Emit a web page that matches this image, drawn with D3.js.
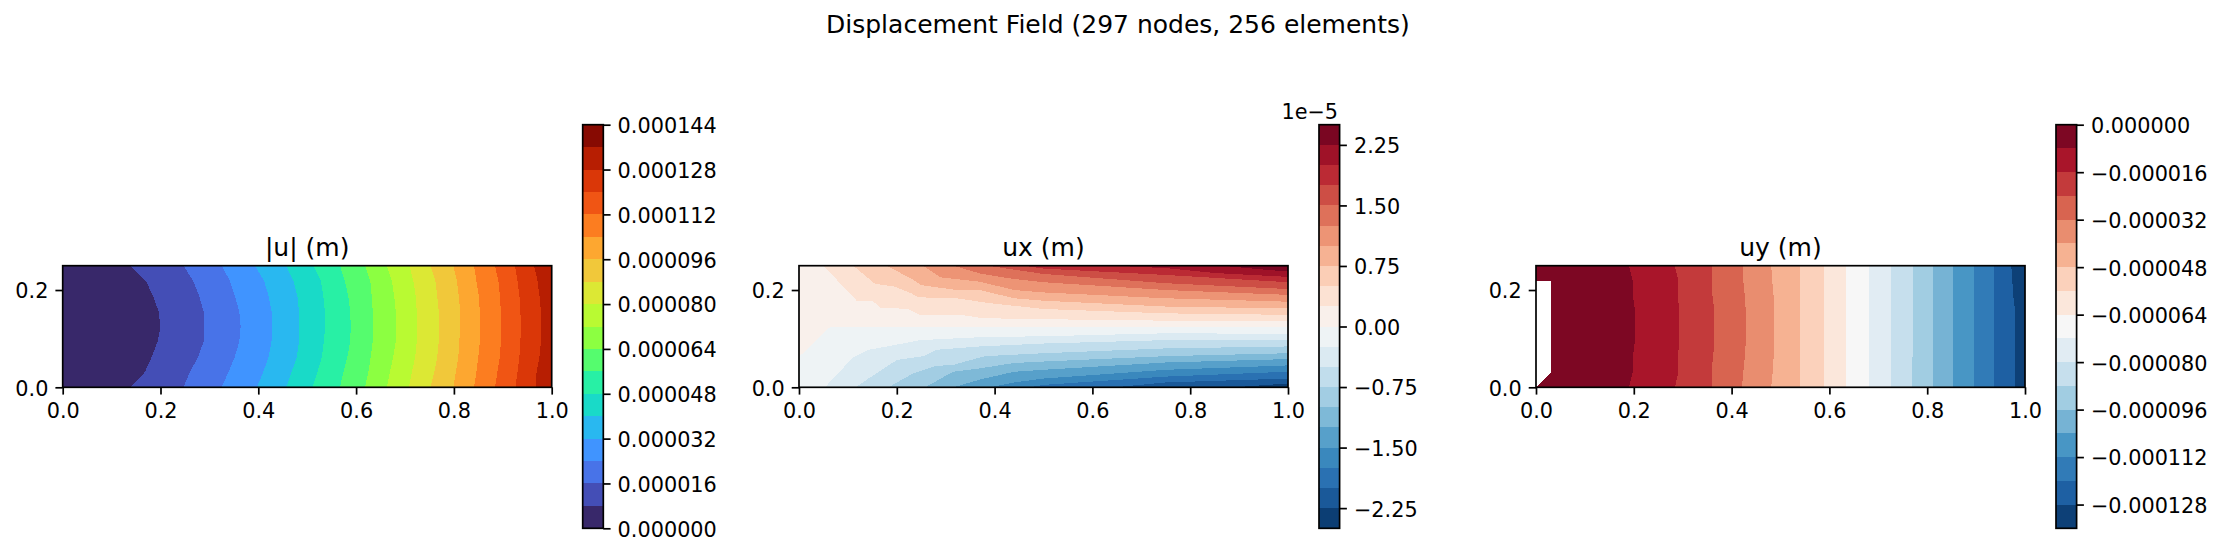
<!DOCTYPE html>
<html>
<head>
<meta charset="utf-8">
<script src="https://d3js.org/d3.v7.min.js"></script>
<style>
* { margin: 0; padding: 0; }
body { background: #fff; }
svg { display: block; font-family: 'DejaVu Sans', sans-serif; }
.tick text { font-size: 20.8px; fill: #000; font-family: 'DejaVu Sans', sans-serif; }
.tick line { stroke: #000; stroke-width: 1.7; }
.domain { display: none; }
</style>
</head>
<body>
<script>
const w = 2223, h = 556;

const figTitle = "Displacement Field (297 nodes, 256 elements)";
const xTicks = [0, 0.2, 0.4, 0.6, 0.8, 1];
const yTicks = [0, 0.2];

// mesh rows the contour crossings were read at
const rowY = [0, 0.03125, 0.0625, 0.09375, 0.125, 0.15625, 0.1875, 0.21875, 0.25];

// |u|: levels and where each one crosses the mesh rows (x position, bottom row to top row)
const umagLevels = [0, 8e-6, 16e-6, 24e-6, 32e-6, 40e-6, 48e-6, 56e-6, 64e-6, 72e-6, 80e-6, 88e-6, 96e-6, 104e-6, 112e-6, 120e-6, 128e-6, 136e-6, 144e-6];
const umagTicks = [0, 16e-6, 32e-6, 48e-6, 64e-6, 80e-6, 96e-6, 112e-6, 128e-6, 144e-6];
const umagCrossings = [
  [.139, .168, .182, .194, .200, .196, .185, .170, .139],
  [.247, .260, .277, .288, .290, .288, .279, .267, .247],
  [.325, .339, .352, .361, .364, .361, .352, .342, .325],
  [.397, .410, .421, .427, .429, .427, .421, .412, .393],
  [.457, .468, .479, .483, .484, .483, .480, .472, .457],
  [.511, .521, .530, .534, .537, .536, .533, .528, .513],
  [.567, .574, .582, .588, .589, .588, .584, .577, .567],
  [.618, .625, .630, .634, .635, .634, .632, .629, .618],
  [.663, .669, .676, .681, .682, .681, .678, .673, .663],
  [.708, .714, .721, .724, .725, .724, .722, .717, .709],
  [.752, .760, .766, .769, .770, .769, .766, .762, .752],
  [.799, .804, .809, .811, .813, .813, .810, .806, .799],
  [.841, .846, .850, .853, .854, .853, .851, .846, .841],
  [.884, .889, .894, .896, .896, .896, .894, .891, .884],
  [.926, .930, .934, .936, .937, .936, .934, .930, .925],
  [.968, .969, .975, .978, .979, .978, .975, .971, .964]
];
// band colours of the |u| panel, lowest band first
const umagColors = ["#38286a", "#444eb6", "#4873e8", "#4094ff", "#29b8f0", "#19dac8", "#28f0a5", "#55fc6e", "#8cff41", "#b9fa32", "#dce834", "#f1c83a", "#fda730", "#fc7d20", "#f05514", "#da3708", "#b71e02", "#870a02"];

// ux (1e-5 m): levels and contour polylines [x, y], -2.25 first
const uxLevels = [-2.5, -2.25, -2, -1.75, -1.5, -1.25, -1, -0.75, -0.5, -0.25, 0, 0.25, 0.5, 0.75, 1, 1.25, 1.5, 1.75, 2, 2.25, 2.5];
const uxTicks = [-2.25, -1.5, -0.75, 0, 0.75, 1.5, 2.25];
const uxContours = [
  [[.89, 0], [1, .008]],
  [[.645, 0], [.75, .01], [1, .018]],
  [[.47, 0], [.5, .005], [.75, .022], [1, .032]],
  [[.39, 0], [.44, .01], [.5, .018], [.75, .036], [1, .045]],
  [[.316, 0], [.37, .016], [.44, .032], [.5, .036], [.75, .051], [1, .058]],
  [[.258, 0], [.315, .032], [.37, .039], [.44, .050], [.5, .053], [.75, .064], [1, .070]],
  [[.183, 0], [.234, .029], [.28, .044], [.315, .046], [.38, .064], [.5, .070], [.75, .080], [1, .084]],
  [[.116, 0], [.142, .018], [.2, .056], [.254, .064], [.28, .077], [.37, .084], [.5, .090], [.75, .097], [1, .097]],
  [[.053, 0], [.111, .062], [.142, .077], [.186, .085], [.248, .097], [.37, .103], [.5, .105], [.75, .111], [1, .110]],
  [[0, .0625], [.0625, .123], [1, .123]],
  [[.05, .25], [.118, .178], [.15, .178], [.166, .164], [.223, .161], [.247, .149], [.33, .149], [.377, .142], [.5, .140], [.75, .137], [1, .137]],
  [[.111, .25], [.155, .213], [.196, .207], [.23, .193], [.244, .185], [.322, .183], [.39, .173], [.5, .161], [.75, .152], [1, .149]],
  [[.179, .25], [.234, .221], [.25, .210], [.315, .201], [.37, .200], [.44, .183], [.5, .178], [.75, .166], [1, .162]],
  [[.254, .25], [.29, .226], [.37, .217], [.44, .200], [.5, .195], [.75, .183], [1, .176]],
  [[.316, .25], [.37, .234], [.43, .224], [.5, .216], [.75, .200], [1, .190]],
  [[.385, .25], [.5, .233], [.75, .214], [1, .202]],
  [[.46, .25], [.5, .244], [.75, .231], [1, .216]],
  [[.64, .25], [.75, .245], [.85, .235], [1, .227]],
  [[.862, .25], [.95, .242], [1, .238]]
];

// uy: levels high to low, crossings of the mesh rows (x position, bottom row to top row)
const uyLevels = [0, -8e-6, -16e-6, -24e-6, -32e-6, -40e-6, -48e-6, -56e-6, -64e-6, -72e-6, -80e-6, -88e-6, -96e-6, -104e-6, -112e-6, -120e-6, -128e-6, -136e-6];
const uyTicks = [0, -16e-6, -32e-6, -48e-6, -64e-6, -80e-6, -96e-6, -112e-6, -128e-6];
const uyCrossings = [
  [.190, .198, .198, .202, .203, .203, .198, .198, .190],
  [.284, .291, .291, .292, .292, .292, .291, .291, .284],
  [.359, .359, .362, .365, .365, .365, .361, .359, .359],
  [.421, .424, .427, .429, .429, .429, .427, .424, .424],
  [.481, .484, .486, .486, .486, .486, .486, .483, .481],
  [.539, .539, .539, .539, .539, .539, .539, .539, .539],
  [.588, .588, .588, .588, .588, .588, .588, .588, .588],
  [.634, .634, .634, .634, .634, .634, .634, .634, .634],
  [.681, .681, .681, .681, .681, .681, .681, .681, .681],
  [.725, .725, .725, .725, .725, .725, .725, .725, .725],
  [.768, .768, .770, .770, .770, .770, .770, .770, .770],
  [.811, .811, .811, .811, .811, .811, .811, .811, .811],
  [.853, .853, .853, .853, .853, .853, .853, .853, .853],
  [.896, .896, .896, .896, .896, .896, .896, .896, .896],
  [.937, .937, .937, .937, .937, .937, .937, .937, .937],
  [.980, .980, .980, .980, .980, .980, .976, .974, .972]
];
// part of the mesh with uy above the top level, left unfilled
const uyGap = [[0, 0], [.031, .031], [.031, .219], [0, .219]];

const rdbuR = ["#053061", "#2166ac", "#4393c3", "#92c5de", "#d1e5f0", "#f7f7f7", "#fddbc7", "#f4a582", "#d6604d", "#b2182b", "#67001f"];
const rdbuScale = d3.scaleLinear().domain(d3.range(11).map(i => i / 10)).range(rdbuR);

const panels = [
  { title: "|u| (m)", left: 62.7, barLeft: 582.7, levels: umagLevels, ticks: umagTicks, fmt: d3.format(".6f"), bandColor: i => umagColors[i], crossings: umagCrossings },
  { title: "ux (m)", left: 799, barLeft: 1319, levels: uxLevels, ticks: uxTicks, fmt: d3.format(".2f"), bandColor: i => rdbuScale((i + 0.5) / 20), contours: uxContours, offset: "1e\u22125" },
  { title: "uy (m)", left: 1536, barLeft: 2056, levels: uyLevels.slice().reverse(), ticks: uyTicks, fmt: d3.format(".6f"), bandColor: i => rdbuScale((i + 0.5) / 17), crossings: uyCrossings, gap: uyGap, flip: true }
];

const axW = 489, axTop = 265.7, axBot = 387.3;
const barW = 20.6, barTop = 124.7, barBot = 528.3;

const svg = d3.select("body").append("svg").attr("width", w).attr("height", h);

svg.append("text").text(figTitle)
  .attr("x", w / 2 + 6.4).attr("y", 33)
  .attr("text-anchor", "middle").attr("font-size", 25).attr("fill", "#000");

panels.forEach(p => {
  const x = d3.scaleLinear().domain([0, 1]).range([p.left, p.left + axW]);
  const y = d3.scaleLinear().domain([0, 0.25]).range([axBot, axTop]);
  const line = d3.line().x(d => x(d[0])).y(d => y(d[1]));

  const nBands = p.levels.length - 1;
  const bandColor = p.bandColor;

  const g = svg.append("g").attr("shape-rendering", "crispEdges");

  if (p.contours) {
    // paint each band over the one below it, lowest level first
    g.append("path").attr("d", line([[0, 0], [1, 0], [1, .25], [0, .25]]) + "Z").attr("fill", bandColor(0));
    p.contours.forEach((c, i) => {
      let poly = c.concat([[1, .25]]);
      if (c[0][1] < .25) poly.push([0, .25]);
      if (c[0][1] == 0) poly.push([0, 0]);
      g.append("path").attr("d", line(poly) + "Z").attr("fill", bandColor(i + 1));
    });
  } else {
    // bands run left to right here, |u| rises and uy falls
    const color = i => p.flip ? bandColor(nBands - 1 - i) : bandColor(i);
    g.append("path").attr("d", line([[0, 0], [1, 0], [1, .25], [0, .25]]) + "Z").attr("fill", color(0));
    p.crossings.forEach((c, i) => {
      let poly = c.map((v, j) => [v, rowY[j]]).concat([[1, .25], [1, 0]]);
      g.append("path").attr("d", line(poly) + "Z").attr("fill", color(i + 1));
    });
  }
  if (p.gap) g.append("path").attr("d", line(p.gap) + "Z").attr("fill", "#fff");

  svg.append("g").attr("transform", "translate(0," + axBot + ")")
    .call(d3.axisBottom(x).tickValues(xTicks).tickSize(7.3).tickPadding(9).tickFormat(d3.format(".1f")));
  svg.append("g").attr("transform", "translate(" + p.left + ",0)")
    .call(d3.axisLeft(y).tickValues(yTicks).tickSize(7.3).tickPadding(7).tickFormat(d3.format(".1f")))
    .selectAll("text").attr("dy", "0.38em");

  svg.append("rect").attr("x", p.left).attr("y", axTop).attr("width", axW).attr("height", axBot - axTop)
    .attr("fill", "none").attr("stroke", "#000").attr("stroke-width", 1.7);

  svg.append("text").text(p.title)
    .attr("x", p.left + axW / 2).attr("y", axTop - 10)
    .attr("text-anchor", "middle").attr("font-size", 25).attr("fill", "#000");

  // colorbar
  const barScale = d3.scaleLinear().domain(d3.extent(p.levels)).range([barBot, barTop]);
  svg.append("g").attr("shape-rendering", "crispEdges")
    .selectAll("rect").data(d3.range(nBands)).enter().append("rect")
    .attr("x", p.barLeft).attr("width", barW)
    .attr("y", i => barScale(p.levels[i + 1]))
    .attr("height", i => barScale(p.levels[i]) - barScale(p.levels[i + 1]))
    .attr("fill", i => bandColor(i));

  svg.append("g").attr("transform", "translate(" + (p.barLeft + barW) + ",0)")
    .call(d3.axisRight(barScale).tickValues(p.ticks).tickSize(7.3).tickPadding(7).tickFormat(p.fmt))
    .selectAll("text").attr("dy", "0.38em");

  svg.append("rect").attr("x", p.barLeft).attr("y", barTop).attr("width", barW).attr("height", barBot - barTop)
    .attr("fill", "none").attr("stroke", "#000").attr("stroke-width", 1.7);

  if (p.offset) {
    svg.append("text").text(p.offset)
      .attr("x", p.barLeft + barW - 1.5).attr("y", barTop - 6)
      .attr("text-anchor", "end").attr("font-size", 20.8).attr("fill", "#000");
  }
});
</script>
</body>
</html>
